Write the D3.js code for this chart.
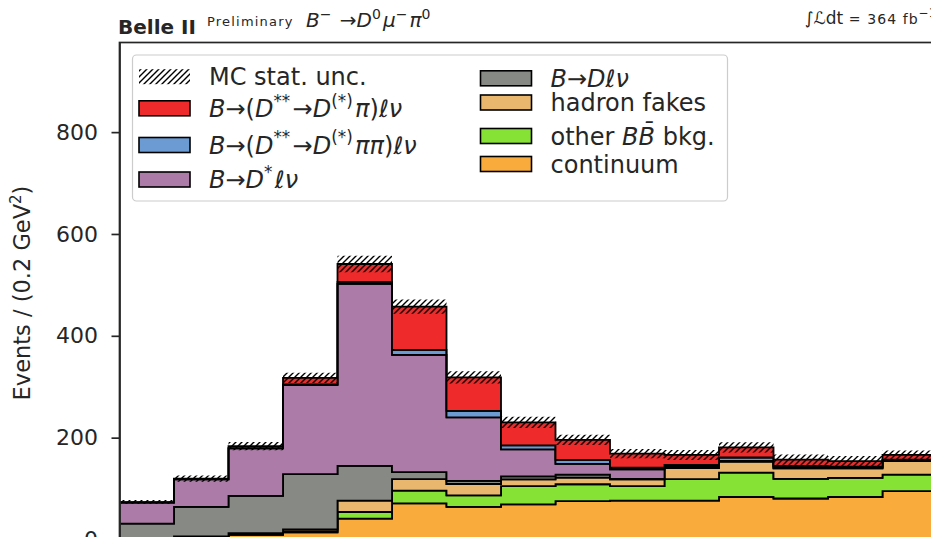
<!DOCTYPE html>
<html>
<head>
<meta charset="utf-8">
<script src="https://cdn.jsdelivr.net/npm/d3@7"></script>
<style>
  body { margin: 0; background: #fff; }
  svg { display: block; font-family: "DejaVu Sans", sans-serif; }
</style>
</head>
<body>
<svg id="chart" width="931" height="537"></svg>
<script>
// Bin edges (0.2 GeV^2 wide)
const binEdges = [0.0, 0.2, 0.4, 0.6, 0.8, 1.0, 1.2, 1.4, 1.6, 1.8, 2.0, 2.2, 2.4, 2.6, 2.8, 3.0];

// Expected events per bin, per component (bottom of stack first)
const continuum  = [0.5, 2, 9, 14, 41, 71, 64, 69, 75.5, 76.5, 76.5, 83.5, 80.5, 83.5, 95];
const otherBB    = [0.5, 1, 1.5, 2, 13, 25, 22.5, 36, 33, 28.5, 42, 48, 38.5, 37.5, 32.5];
const hadronFake = [0.5, 3, 2, 4, 22.5, 22.5, 22.5, 13, 13, 13, 21.5, 21.5, 20.5, 18.5, 26.5];
const dLnu       = [29.5, 58, 73, 108.5, 68, 14, 6, 6, 6, 1, 2, 0.5, 1.5, 1, 1];
const dstarLnu   = [41.5, 54, 93.5, 175, 357.5, 230, 125, 53, 21, 19, 2.5, 1, 2, 1.5, 1];
const dss2pi     = [0.5, 0.5, 0.5, 1, 4, 10, 12.5, 8, 8, 3, 2, 6.5, 1.5, 1, 1];
const dss1pi     = [0.5, 1, 4, 13, 35, 85, 66, 45, 39, 27.5, 19.5, 20, 12.5, 11, 9];
// MC statistical uncertainty on the stacked total
const mcStatUnc  = [4, 6, 8, 10, 16, 14, 12, 11, 10, 9, 10, 10, 10, 10, 9];

const yTicks = [0, 200, 400, 600, 800];

const components = [
  { key: "continuum",  values: continuum,  color: "#f9ab3c" },
  { key: "otherBB",    values: otherBB,    color: "#87e236" },
  { key: "hadronFake", values: hadronFake, color: "#e9b86e" },
  { key: "dLnu",       values: dLnu,       color: "#878985" },
  { key: "dstarLnu",   values: dstarLnu,   color: "#ac7ba7" },
  { key: "dss2pi",     values: dss2pi,     color: "#6b9bd2" },
  { key: "dss1pi",     values: dss1pi,     color: "#ee2a2a" }
];

const rows = continuum.map((_, i) => {
  const r = { lo: binEdges[i], hi: binEdges[i + 1] };
  components.forEach(c => { r[c.key] = c.values[i]; });
  return r;
});

const svg = d3.select("#chart");
const m = { left: 119.5, top: 42.5, right: 937, bottom: 539.5 };

const x = d3.scaleLinear().domain([binEdges[0], binEdges[binEdges.length - 1]]).range([m.left, m.right]);
const y = d3.scaleLinear().domain([0, 976]).range([m.bottom, m.top]);

const stacked = d3.stack().keys(components.map(c => c.key))(rows);

// step outline: two points per bin
function stepPoints(lowF, highF) {
  const pts = [];
  rows.forEach((r, i) => {
    pts.push({ x: r.lo, y0: lowF(i), y1: highF(i) });
    pts.push({ x: r.hi, y0: lowF(i), y1: highF(i) });
  });
  return pts;
}

const area = d3.area()
  .x(p => x(p.x))
  .y0(p => y(p.y0))
  .y1(p => y(p.y1));

const defs = svg.append("defs");
const pat = defs.append("pattern")
  .attr("id", "hatch")
  .attr("patternUnits", "userSpaceOnUse")
  .attr("width", 6).attr("height", 6);
pat.append("path")
  .attr("d", "M-1,1 l2,-2 M0,6 l6,-6 M5,7 l2,-2")
  .attr("stroke", "#000").attr("stroke-width", 1.4);

defs.append("clipPath").attr("id", "plotclip")
  .append("rect").attr("x", m.left).attr("y", m.top)
  .attr("width", m.right - m.left).attr("height", m.bottom - m.top);

const plot = svg.append("g").attr("clip-path", "url(#plotclip)");

stacked.forEach((s, k) => {
  plot.append("path")
    .attr("d", area(stepPoints(i => s[i][0], i => s[i][1])))
    .attr("fill", components[k].color)
    .attr("stroke", "#000")
    .attr("stroke-width", 1.8)
    .attr("stroke-linejoin", "miter");
});

const totalLayer = stacked[stacked.length - 1];
plot.append("path")
  .attr("d", area(stepPoints(i => totalLayer[i][1] - mcStatUnc[i], i => totalLayer[i][1] + mcStatUnc[i])))
  .attr("fill", "url(#hatch)")
  .attr("stroke", "none");

// axes
const yAxis = svg.append("g")
  .attr("transform", `translate(${m.left},0)`)
  .call(d3.axisLeft(y).tickValues(yTicks).tickSize(8).tickSizeOuter(0).tickPadding(13.5));
yAxis.selectAll("text").attr("font-size", 22).attr("fill", "#262626").attr("font-family", "DejaVu Sans");
yAxis.selectAll("line").attr("stroke", "#262626").attr("stroke-width", 1.7);
yAxis.select(".domain").attr("stroke", "#262626").attr("stroke-width", 1.7);

svg.append("rect")
  .attr("x", m.left).attr("y", m.top)
  .attr("width", m.right - m.left).attr("height", m.bottom - m.top)
  .attr("fill", "none").attr("stroke", "#262626").attr("stroke-width", 1.7);

const ylab = svg.append("text")
  .attr("transform", `translate(30,${(m.top + m.bottom) / 2 + 2}) rotate(-90)`)
  .attr("text-anchor", "middle")
  .attr("font-size", 22.5).attr("fill", "#262626");
ylab.append("tspan").text("Events / (0.2 GeV");
ylab.append("tspan").attr("dy", -9).attr("font-size", 15).text("2");
ylab.append("tspan").attr("dy", 9).text(")");

// rich-text helper: segments with italic / superscript flags
function rich(sel, segs, size) {
  segs.forEach(s => {
    const t = sel.append("tspan").text(s.t);
    if (s.it) t.attr("font-style", "italic");
    if (s.size) t.attr("font-size", s.size);
    if (s.ls) t.attr("letter-spacing", s.ls);
    if (s.sup) {
      t.attr("font-size", size * 0.7).attr("dy", -size * 0.42);
      sel.append("tspan").attr("font-size", size).attr("dy", size * 0.42).text("\u200a");
    }
  });
}

// header
svg.append("text").attr("x", 118).attr("y", 33.5)
  .attr("font-size", 20).attr("font-weight", "bold").attr("fill", "#262626").text("Belle II");
svg.append("text").attr("x", 207).attr("y", 26)
  .attr("font-size", 13).attr("letter-spacing", 1.2).attr("fill", "#262626").text("Preliminary");
const decay = svg.append("text").attr("x", 306).attr("y", 27).attr("font-size", 20).attr("fill", "#262626");
rich(decay, [
  { t: "B", it: true }, { t: "\u2212", sup: true }, { t: " \u2192" }, { t: "D", it: true }, { t: "0", sup: true },
  { t: "\u03bc", it: true }, { t: "\u2212", sup: true }, { t: "\u03c0", it: true }, { t: "0", sup: true }
], 20);
const lumi = svg.append("text").attr("x", 938).attr("y", 24).attr("text-anchor", "end")
  .attr("font-size", 17).attr("fill", "#262626");
rich(lumi, [{ t: "\u222b" }, { t: "\u2112", it: true }, { t: "dt" }, { t: " = 364 fb", size: 14, ls: 1.1 }, { t: "\u22121", sup: true }], 17);

// legend
const legendEntries = [
  { hatch: true, label: [{ t: "MC stat. unc." }] },
  { color: "#ee2a2a", label: [{ t: "B", it: true }, { t: "\u2192(" }, { t: "D", it: true }, { t: "**", sup: true }, { t: "\u2192" }, { t: "D", it: true }, { t: "(*)", sup: true }, { t: "\u03c0", it: true }, { t: ")" }, { t: "\u2113\u03bd", it: true }] },
  { color: "#6b9bd2", label: [{ t: "B", it: true }, { t: "\u2192(" }, { t: "D", it: true }, { t: "**", sup: true }, { t: "\u2192" }, { t: "D", it: true }, { t: "(*)", sup: true }, { t: "\u03c0\u03c0", it: true }, { t: ")" }, { t: "\u2113\u03bd", it: true }] },
  { color: "#ac7ba7", label: [{ t: "B", it: true }, { t: "\u2192" }, { t: "D", it: true }, { t: "*", sup: true }, { t: "\u2113\u03bd", it: true }] },
  { color: "#878985", label: [{ t: "B", it: true }, { t: "\u2192" }, { t: "D\u2113\u03bd", it: true }] },
  { color: "#e9b86e", label: [{ t: "hadron fakes" }] },
  { color: "#87e236", label: [{ t: "other " }, { t: "BB\u0304", it: true }, { t: " bkg." }] },
  { color: "#f9ab3c", label: [{ t: "continuum" }] }
];
const legendRowY = [76.7, 108.3, 145, 179.5, 78.3, 102.5, 136, 164];
const legendColX = [139, 480.5];

const lg = svg.append("g");
lg.append("rect").attr("x", 132.5).attr("y", 55).attr("width", 595).attr("height", 146)
  .attr("rx", 4).attr("fill", "#fff").attr("fill-opacity", 0.8)
  .attr("stroke", "#cccccc").attr("stroke-width", 1.2);

legendEntries.forEach((e, i) => {
  const cx = legendColX[Math.floor(i / 4)];
  const cy = legendRowY[i];
  lg.append("rect").attr("x", cx).attr("y", cy - 7.5).attr("width", 51).attr("height", 15)
    .attr("fill", e.hatch ? "url(#hatch)" : e.color)
    .attr("stroke", e.hatch ? "none" : "#000").attr("stroke-width", 1.6);
  const t = lg.append("text").attr("x", cx + 70).attr("y", cy + 8.5)
    .attr("font-size", 24).attr("fill", "#262626");
  rich(t, e.label, 24);
});
</script>
</body>
</html>
